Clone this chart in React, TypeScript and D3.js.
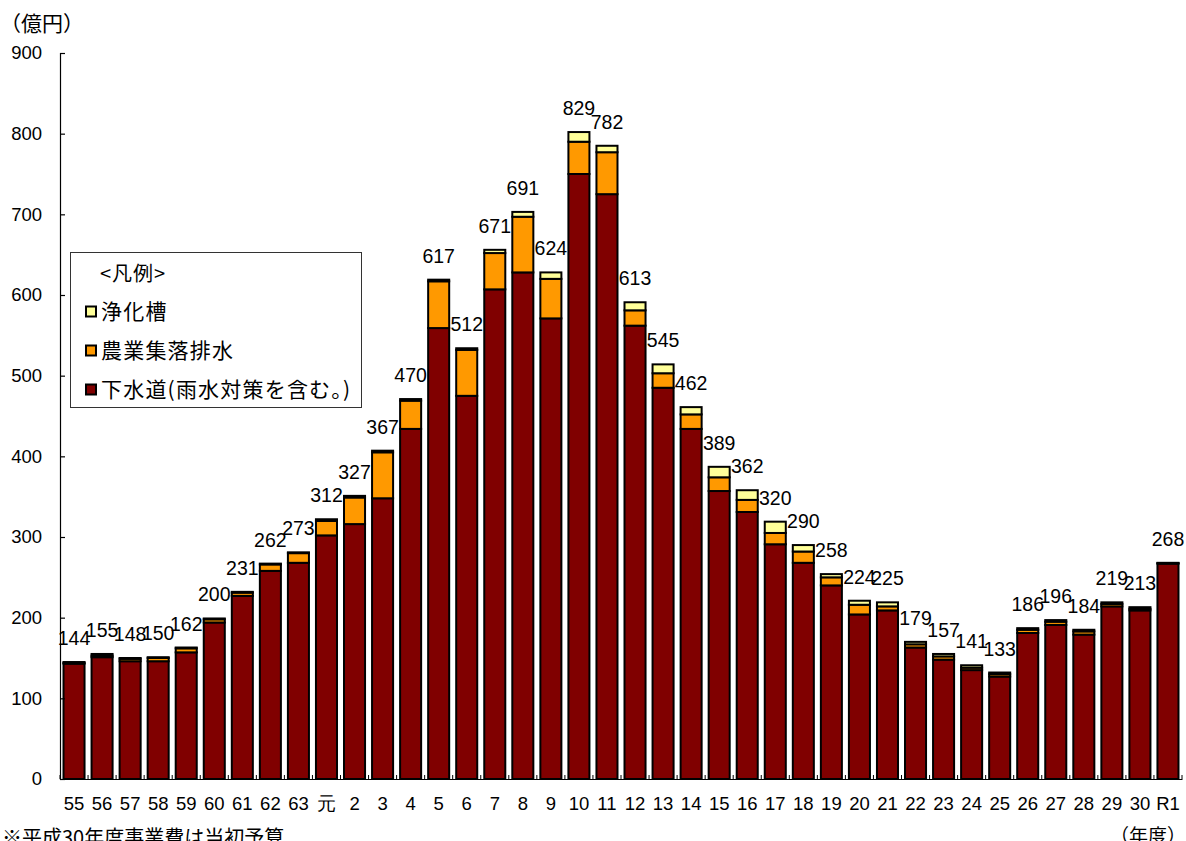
import React, { useEffect, useRef } from 'react';
import * as d3 from 'd3';

// fiscal years (昭和55〜平成30, 令和元年)
const years = ['55', '56', '57', '58', '59', '60', '61', '62', '63', '元',
  '2', '3', '4', '5', '6', '7', '8', '9', '10', '11', '12', '13', '14', '15',
  '16', '17', '18', '19', '20', '21', '22', '23', '24', '25', '26', '27', '28',
  '29', '30', 'R1'];

// 下水道（雨水対策を含む。）
const sewer = [143, 151, 146, 146, 157, 194, 227, 258, 268, 302,
  316, 348, 434, 559, 475, 607, 628, 571, 750, 725, 562, 485, 434, 357,
  331, 291, 268, 240, 204, 209, 163, 148, 135, 127, 181, 191, 179,
  214, 209, 267];
// 農業集落排水
const rural = [1, 2, 3, 4, 5, 4, 4, 8, 12, 18,
  33, 57, 35, 58, 57, 45, 69, 49, 40, 52, 19, 18, 18, 17,
  15, 14, 14, 10, 12, 5, 4, 4, 3, 3, 4, 4, 4,
  3, 2, 0.5];
// 浄化槽
const septic = [1, 2, 1, 1, 1, 1, 1, 1, 1, 2,
  2, 2, 2, 2, 2, 4, 6, 8, 12, 8, 10, 11, 9, 13,
  12, 14, 8, 4, 5, 5, 3, 3, 3, 2, 2, 2, 2,
  2, 2, 0.5];
// numbers printed above the bars
const labels = [144, 155, 148, 150, 162, 200, 231, 262, 273, 312,
  327, 367, 470, 617, 512, 671, 691, 624, 829, 782, 613, 545, 462, 389,
  362, 320, 290, 258, 224, 225, 179, 157, 141, 133, 186, 196, 184,
  219, 213, 268];

const yTicks = [0, 100, 200, 300, 400, 500, 600, 700, 800, 900];

const seriesKeys = ['sewer', 'rural', 'septic'];
const seriesNames = ['下水道(雨水対策を含む。)', '農業集落排水', '浄化槽'];
const colors: Record<string, string> = { sewer: '#800000', rural: '#FF9900', septic: '#FFFF99' };

const JP = '"Noto Sans CJK JP", sans-serif';
const NUM = '"Liberation Sans", Arial, sans-serif';

const App: React.FC = () => {
  const ref = useRef<SVGSVGElement>(null);

  useEffect(() => {
    if (!ref.current) return;
    const svg = d3.select(ref.current);
    svg.selectAll('*').remove();

    const left = 60, right = 1182, top = 53, bottom = 779;

    const rows = years.map((yr, i) => ({ year: yr, sewer: sewer[i], rural: rural[i], septic: septic[i] }));

    const x = d3.scaleBand<string>().domain(years).range([left, right])
      .paddingInner(0.25).paddingOuter(0.125);
    const y = d3.scaleLinear().domain([0, 900]).range([bottom, top]);

    const stacked = d3.stack<any>().keys(seriesKeys)(rows);

    // bars
    svg.append('g')
      .selectAll('g')
      .data(stacked)
      .enter().append('g')
      .attr('fill', d => colors[d.key])
      .selectAll('rect')
      .data(d => d)
      .enter().append('rect')
      .attr('x', d => x(d.data.year)!)
      .attr('width', x.bandwidth())
      .attr('y', d => y(d[1]))
      .attr('height', d => y(d[0]) - y(d[1]))
      .attr('stroke', '#000')
      .attr('stroke-width', 2);

    // y axis
    const yAxis = svg.append('g')
      .attr('transform', `translate(${left},0)`)
      .call(d3.axisLeft(y).tickValues(yTicks).tickSize(-5).tickSizeOuter(-5).tickPadding(18));
    yAxis.selectAll('text')
      .attr('font-family', NUM).attr('font-size', 18.5).attr('fill', '#000');
    yAxis.selectAll('line, path').attr('stroke', '#000').attr('stroke-width', 1.2);

    // x axis
    const xAxis = svg.append('g')
      .attr('transform', `translate(0,${bottom})`)
      .call(d3.axisBottom(x).tickSize(0).tickPadding(18));
    xAxis.select('.domain').attr('stroke', '#000').attr('stroke-width', 1.2);
    xAxis.selectAll('text')
      .attr('font-family', NUM).attr('font-size', 18.5).attr('fill', '#000');

    // small category separators on the x axis
    const step = x.step();
    svg.append('g')
      .selectAll('line')
      .data(d3.range(years.length + 1))
      .enter().append('line')
      .attr('x1', i => left + i * step).attr('x2', i => left + i * step)
      .attr('y1', bottom).attr('y2', bottom - 4)
      .attr('stroke', '#000').attr('stroke-width', 1);

    // value labels
    svg.append('g')
      .selectAll('text')
      .data(rows)
      .enter().append('text')
      .attr('x', d => x(d.year)! + x.bandwidth() / 2)
      .attr('y', d => y(d.sewer + d.rural + d.septic) - 17)
      .attr('text-anchor', 'middle')
      .attr('font-family', NUM).attr('font-size', 19.5).attr('fill', '#000')
      .text((d, i) => labels[i]);

    // unit captions
    svg.append('text').attr('x', 0).attr('y', 31)
      .attr('font-family', JP).attr('font-size', 21).text('（億円）');
    svg.append('text').attr('x', 1110).attr('y', 843)
      .attr('font-family', JP).attr('font-size', 19).text('（年度）');
    svg.append('text').attr('x', 2).attr('y', 845)
      .attr('font-family', JP).attr('font-size', 20).text('※平成30年度事業費は当初予算');

    // legend
    const lg = svg.append('g');
    lg.append('rect').attr('x', 70.5).attr('y', 252.5).attr('width', 291).attr('height', 155)
      .attr('fill', '#fff').attr('stroke', '#333').attr('stroke-width', 1);
    lg.append('text').attr('x', 100).attr('y', 281)
      .attr('font-family', JP).attr('font-size', 20).attr('letter-spacing', 1).text('<凡例>');
    const order = [2, 1, 0];
    order.forEach((s, row) => {
      const cy = 311.5 + row * 39;
      lg.append('rect').attr('x', 86).attr('y', cy - 5).attr('width', 10).attr('height', 10)
        .attr('fill', colors[seriesKeys[s]]).attr('stroke', '#000').attr('stroke-width', 2);
      lg.append('text').attr('x', 101).attr('y', cy + 7.5)
        .attr('font-family', JP).attr('font-size', 21).attr('letter-spacing', 1.2)
        .attr('fill', '#000')
        .text(seriesNames[s]);
    });
  }, []);

  return (
    <svg ref={ref} width={1186} height={841}
      style={{ position: 'absolute', left: 0, top: 0, background: '#fff' }} />
  );
};

export default App;
